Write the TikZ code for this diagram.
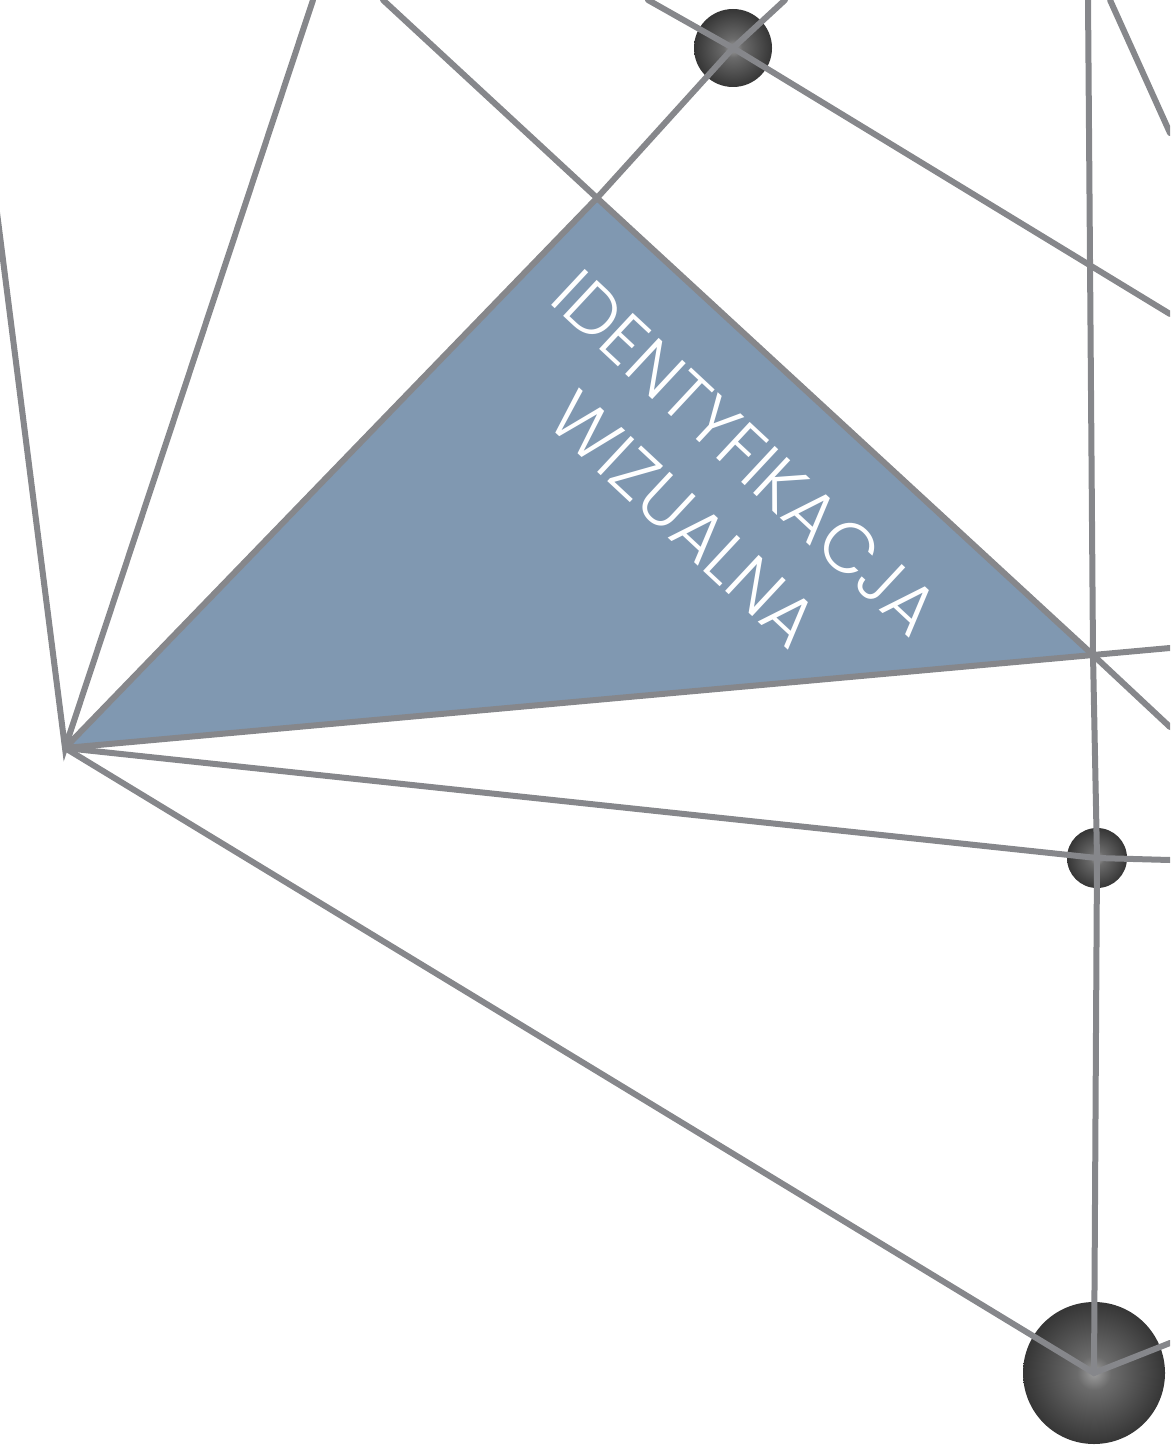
\documentclass[tikz,border=0pt]{standalone}
\usepackage{fontspec}
\newfontfamily\thinfont{Poppins Light}
\usepackage{tikz}
\usetikzlibrary{calc}
\definecolor{wire}{HTML}{86878B}
\definecolor{facet}{HTML}{8098B1}
\pgfdeclareradialshading{ballshade}{\pgfpoint{0bp}{0bp}}{%
  color(0bp)=(black!38); color(6bp)=(black!58); color(26bp)=(black!80); color(50bp)=(black!90)}
\tikzset{
  wire/.style={draw=wire,line width=0.6mm,line cap=round},
  ball/.style={circle,inner sep=0pt,shading=ballshade,minimum size=#1},
  caption/.style={font=\thinfont\fontsize{20}{26}\selectfont,text=white,align=center,rotate=-43}}

\begin{document}
\begin{tikzpicture}[x=0.1mm,y=-0.1mm]
  \useasboundingbox (0,0) rectangle (1170,1454);
  \clip (0,0) rectangle (1170,1454);
  % corners of the coloured facet
  \coordinate (A) at (65,748);
  \coordinate (T) at (597,198);
  \coordinate (R) at (1093,655);
  % free ends at the border
  \coordinate (e1) at (-30,0);
  \coordinate (e2) at (313,0);
  \coordinate (e3) at (383,0);
  \coordinate (e4) at (1170,727);
  \coordinate (e5) at (785,0);
  \coordinate (e6) at (648,0);
  \coordinate (e7) at (1170,314);
  \coordinate (e8) at (1088,0);
  \coordinate (e9) at (1170,648);
  \coordinate (e10) at (1170,860);
  \coordinate (e11) at (1170,1343);
  \coordinate (e12) at (1110,0);
  \coordinate (e13) at (1170,133);
  \fill[facet] (A) -- (T) -- (R) -- cycle;
  \node[ball=7.8mm] (top) at (733,48) {};
  \node[ball=6mm] (mid) at (1097,858) {};
  \node[ball=14.2mm] (big) at (1094,1373) {};
  \draw[wire] (e1) -- (A) -- (e2);
  \draw[wire] (e3) -- (T) -- (R) -- (e4);
  \draw[wire] (A) -- (T) -- (top.center) -- (e5);
  \draw[wire] (e6) -- (top.center) -- (e7);
  \draw[wire] (A) -- (R) -- (e9);
  \draw[wire] (e8) -- (R) -- (mid.center) -- (big.center);
  \draw[wire] (A) -- (mid.center) -- (e10);
  \draw[wire] (A) -- (big.center) -- (e11);
  \draw[wire] (e12) -- (e13);
  \node[caption] (label) at (715,486) {IDENTYFIKACJA\\WIZUALNA};
\end{tikzpicture}
\end{document}
